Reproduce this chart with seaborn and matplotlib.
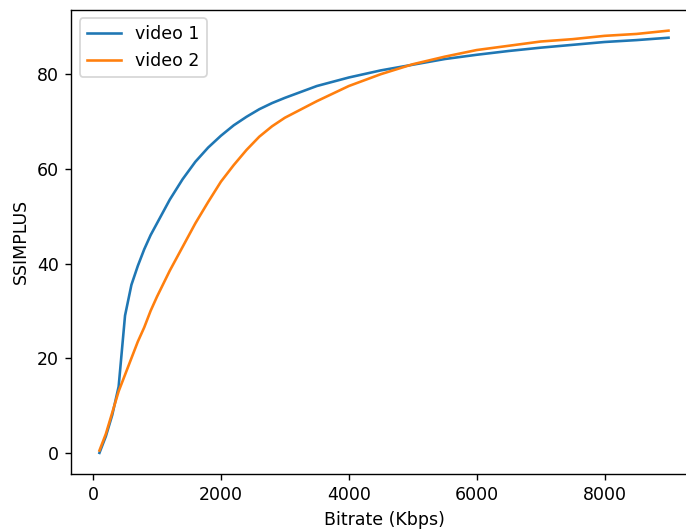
import matplotlib
matplotlib.use('Agg')
import matplotlib.pyplot as plt
import pandas as pd
import seaborn as sns

# bitrate points (Kbps)
bitrate = [100, 200, 300, 400, 500, 600, 700, 800, 900, 1000,
           1200, 1400, 1600, 1800, 2000, 2200, 2400, 2600, 2800, 3000,
           3500, 4000, 4500, 5000, 5500, 6000, 6500, 7000, 7500, 8000,
           8500, 9000]

# SSIMPLUS scores
video1 = [0.0, 3.5, 8.0, 14.0, 29.0, 35.5, 39.5, 43.0, 46.0, 48.5,
          53.5, 57.8, 61.5, 64.5, 67.0, 69.2, 71.0, 72.6, 73.9, 75.0,
          77.5, 79.3, 80.8, 82.0, 83.2, 84.1, 84.9, 85.6, 86.2, 86.8,
          87.2, 87.7]
video2 = [0.5, 4.0, 8.5, 13.0, 16.5, 20.0, 23.5, 26.5, 30.0, 33.0,
          38.5, 43.5, 48.5, 53.0, 57.3, 60.8, 64.0, 66.8, 69.0, 70.8,
          74.3, 77.5, 80.0, 82.1, 83.7, 85.1, 86.0, 86.9, 87.4, 88.1,
          88.5, 89.2]

df = pd.DataFrame({
    'Bitrate (Kbps)': bitrate * 2,
    'SSIMPLUS': video1 + video2,
    'video': ['video 1'] * len(bitrate) + ['video 2'] * len(bitrate),
})

# rendered at dpi 125 -> everything a bit bigger, like the reference
fig, ax = plt.subplots(figsize=(686 / 125, 529 / 125), dpi=125)
# the reference is cropped on the right, so the axes run past the edge
fig.subplots_adjust(left=0.1035, right=1.016, top=0.982, bottom=0.104)

sns.lineplot(data=df, x='Bitrate (Kbps)', y='SSIMPLUS', hue='video',
             palette=['#1f77b4', '#ff7f0e'], ax=ax)
ax.legend(loc='upper left')
ax.spines['right'].set_visible(False)

fig.savefig('out.png', dpi=125)
